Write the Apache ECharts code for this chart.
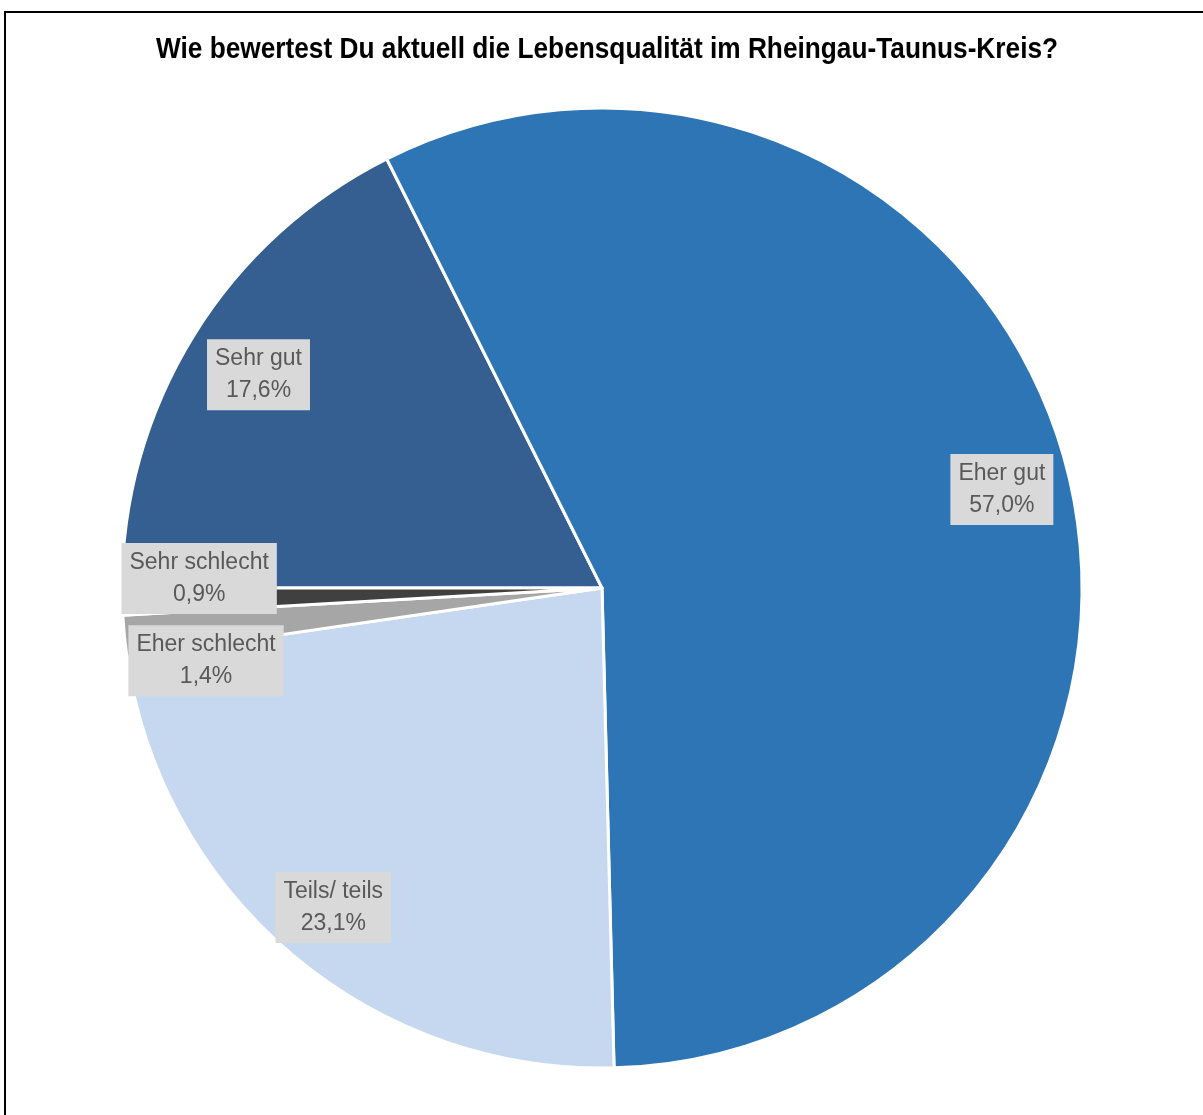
<!DOCTYPE html>
<html>
<head>
<meta charset="utf-8">
<style>
  html, body { margin: 0; padding: 0; background: #fff; }
  #chart { width: 1203px; height: 1115px; }
</style>
<script src="https://cdn.jsdelivr.net/npm/echarts@6/dist/echarts.min.js"></script>
</head>
<body>
<div id="chart"></div>
<script>
// Survey answers, clockwise from 9 o'clock
const categories = ['Sehr gut', 'Eher gut', 'Teils/ teils', 'Eher schlecht', 'Sehr schlecht'];
const shares = [17.6, 57.0, 23.1, 1.4, 0.9];
const colors = ['#355F91', '#2E75B6', '#C5D8F0', '#A6A6A6', '#404040'];
// small nudges so the tiny slices' labels do not collide
const labelOffsets = [[2, 0], [6, 0], [-7, 9], [8, 32], [3, -21]];

const titleText = 'Wie bewertest Du aktuell die Lebensqualität im Rheingau-Taunus-Kreis?';
const FONT = '"Liberation Sans Narrow", "Arial Narrow", "Liberation Sans", Arial, sans-serif';

const chart = echarts.init(document.getElementById('chart'), null, { renderer: 'canvas' });

const fmt = v => v.toFixed(1).replace('.', ',') + '%';

const pieData = categories.map((name, i) => ({
  name,
  value: shares[i],
  itemStyle: { color: colors[i] }
}));

// invisible twin pie: its "inside" labels sit at 0.84 of the real radius
const labelData = categories.map((name, i) => ({
  name,
  value: shares[i],
  label: { offset: labelOffsets[i] }
}));

chart.setOption({
  backgroundColor: '#ffffff',
  animation: false,
  graphic: [
    {
      // condensed bold heading
      type: 'text',
      x: 607,
      y: 50,
      scaleX: 0.875,
      silent: true,
      style: {
        text: titleText,
        fontFamily: FONT,
        fontSize: 30,
        fontWeight: 'bold',
        fill: '#000000',
        align: 'center',
        verticalAlign: 'middle'
      }
    },
    {
      type: 'rect',
      shape: { x: 5, y: 12, width: 1260, height: 1200 },
      style: { fill: 'none', stroke: '#000000', lineWidth: 2 },
      silent: true,
      z: 100
    }
  ],
  series: [
    {
      type: 'pie',
      center: [602, 588],
      radius: [0, 480],
      startAngle: 180,
      clockwise: true,
      label: { show: false },
      labelLine: { show: false },
      itemStyle: { borderColor: '#ffffff', borderWidth: 3 },
      emphasis: { disabled: true },
      data: pieData
    },
    {
      type: 'pie',
      center: [602, 588],
      radius: [0, 806],
      startAngle: 180,
      clockwise: true,
      silent: true,
      z: 5,
      itemStyle: { color: 'rgba(0,0,0,0)', borderWidth: 0 },
      labelLine: { show: false },
      label: {
        show: true,
        position: 'inside',
        formatter: p => p.name + '\n' + fmt(p.value),
        fontFamily: FONT,
        fontSize: 23,
        lineHeight: 32,
        color: '#595959',
        backgroundColor: '#D9D9D9',
        padding: [4, 8, 3, 8],
        align: 'center'
      },
      emphasis: { disabled: true },
      data: labelData
    }
  ]
});
</script>
</body>
</html>
